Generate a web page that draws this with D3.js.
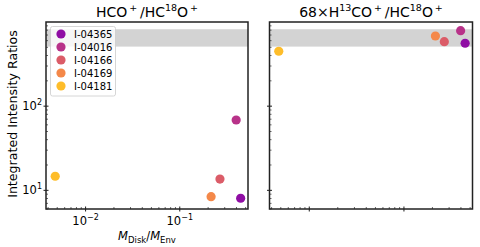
<!DOCTYPE html>
<html>
  <head>
    <meta charset="UTF-8" />
    <title>Intensity ratios vs disk/envelope mass</title>
    <style>
      body { margin: 0; background: #fff; }
      text { font-family: 'DejaVu Sans', sans-serif; fill: #000; }
    </style>
  </head>
  <body>
    <svg width="480" height="247"></svg>
    <script src="https://cdnjs.cloudflare.com/ajax/libs/d3/7.8.5/d3.min.js"></script>
    <script>
      const sources = ['I-04365', 'I-04016', 'I-04166', 'I-04169', 'I-04181'];
      const massRatio = [0.443, 0.397, 0.267, 0.215, 0.00476];
      const hcoRatio = [8.05, 68.5, 13.6, 8.4, 14.7];
      const h13coRatio = [559, 788, 583, 682, 449];
      const colors = ['#8f0da4', '#b83289', '#db5c68', '#f48849', '#febd2a'];
      const band = [510, 820];
      const xTicks = [0.01, 0.1];
      const yTicks = [10, 100];

      const svg = d3.select('svg');
      const plotTop = 22;
      const plotBottom = 209;
      const panels = [
        { left: 46, right: 248, values: hcoRatio, labels: true },
        { left: 269.5, right: 472.5, values: h13coRatio, labels: false },
      ];

      const y = d3.scaleLog().domain([6, 1000]).range([plotBottom, plotTop]);

      const minorTicks = (lo, hi) => {
        const out = [];
        for (let e = -4; e <= 3; e++) {
          for (let m = 2; m <= 9; m++) {
            const v = m * Math.pow(10, e);
            if (v >= lo && v <= hi) out.push(v);
          }
        }
        return out;
      };

      panels.forEach((p) => {
        const x = d3.scaleLog().domain([0.0038, 0.53]).range([p.left, p.right]);
        const g = svg.append('g');

        // reference band
        g.append('rect')
          .attr('x', p.left)
          .attr('width', p.right - p.left)
          .attr('y', y(band[1]))
          .attr('height', y(band[0]) - y(band[1]))
          .attr('fill', '#d3d3d3');

        // points
        g.selectAll('circle')
          .data(sources)
          .join('circle')
          .attr('cx', (d, i) => x(massRatio[i]))
          .attr('cy', (d, i) => y(p.values[i]))
          .attr('r', 4.6)
          .attr('fill', (d, i) => colors[i]);

        // minor ticks (inside)
        minorTicks(6, 1000).forEach((v) => {
          g.append('line')
            .attr('x1', p.left).attr('x2', p.left + 2)
            .attr('y1', y(v)).attr('y2', y(v))
            .attr('stroke', '#000').attr('stroke-width', 0.6);
        });
        minorTicks(0.0038, 0.53).forEach((v) => {
          g.append('line')
            .attr('x1', x(v)).attr('x2', x(v))
            .attr('y1', plotBottom).attr('y2', plotBottom - 2)
            .attr('stroke', '#000').attr('stroke-width', 0.6);
        });

        // major ticks (in-out)
        yTicks.forEach((v) => {
          g.append('line')
            .attr('x1', p.left - 2.5).attr('x2', p.left + 2.5)
            .attr('y1', y(v)).attr('y2', y(v))
            .attr('stroke', '#000').attr('stroke-width', 0.9);
        });
        xTicks.forEach((v) => {
          g.append('line')
            .attr('x1', x(v)).attr('x2', x(v))
            .attr('y1', plotBottom - 2.5).attr('y2', plotBottom + 2.5)
            .attr('stroke', '#000').attr('stroke-width', 0.9);
        });

        // frame
        g.append('rect')
          .attr('x', p.left).attr('y', plotTop)
          .attr('width', p.right - p.left).attr('height', plotBottom - plotTop)
          .attr('fill', 'none').attr('stroke', '#222').attr('stroke-width', 1.5);

        if (p.labels) {
          yTicks.forEach((v) => {
            const t = g.append('text')
              .attr('x', p.left - 4).attr('y', y(v) + 4)
              .attr('text-anchor', 'end').style('font-size', '11.5px');
            t.append('tspan').text('10');
            t.append('tspan').attr('dy', -5).style('font-size', '8px')
              .text(Math.round(Math.log10(v)));
          });
          xTicks.forEach((v) => {
            const t = g.append('text')
              .attr('x', x(v)).attr('y', plotBottom + 16)
              .attr('text-anchor', 'middle').style('font-size', '11.5px');
            t.append('tspan').text('10');
            t.append('tspan').attr('dy', -5).style('font-size', '8px')
              .text('\u2212' + Math.abs(Math.round(Math.log10(v))));
          });
        }
      });

      // titles
      const sup = (t, s) => t.append('tspan').attr('dy', -6).style('font-size', '9.5px').text(s);
      const base = (t, s) => t.append('tspan').attr('dy', 6).style('font-size', '14px').text(s);

      const t1 = svg.append('text').attr('x', 147).attr('y', 17).attr('text-anchor', 'middle')
        .style('font-size', '14px');
      t1.append('tspan').text('HCO');
      sup(t1, '\u2009+');
      base(t1, '\u2009/HC');
      sup(t1, '18');
      base(t1, 'O');
      sup(t1, '\u2009+');

      const t2 = svg.append('text').attr('x', 371).attr('y', 17).attr('text-anchor', 'middle')
        .style('font-size', '14px');
      t2.append('tspan').text('68\u00d7H');
      sup(t2, '13');
      base(t2, 'CO');
      sup(t2, '\u2009+');
      base(t2, '\u2009/HC');
      sup(t2, '18');
      base(t2, 'O');
      sup(t2, '\u2009+');

      // axis labels
      svg.append('text')
        .attr('transform', `translate(16.5,114) rotate(-90)`)
        .attr('text-anchor', 'middle').style('font-size', '12.6px')
        .text('Integrated Intensity Ratios');

      const xl = svg.append('text').attr('x', 147).attr('y', 240)
        .attr('text-anchor', 'middle').style('font-size', '11.5px');
      xl.append('tspan').style('font-style', 'italic').text('M');
      xl.append('tspan').attr('dy', 3).style('font-size', '8.5px').text('Disk');
      xl.append('tspan').attr('dy', -3).text('/');
      xl.append('tspan').style('font-style', 'italic').text('M');
      xl.append('tspan').attr('dy', 3).style('font-size', '8.5px').text('Env');

      // legend
      const lg = svg.append('g');
      lg.append('rect')
        .attr('x', 50.5).attr('y', 26.5).attr('width', 65).attr('height', 69.5)
        .attr('rx', 2).attr('fill', 'rgba(255,255,255,0.8)')
        .attr('stroke', '#ccc').attr('stroke-width', 0.8);
      const rows = d3.scalePoint().domain(sources).range([34, 86]);
      lg.selectAll('circle.leg')
        .data(sources)
        .join('circle')
        .attr('class', 'leg')
        .attr('cx', 61).attr('cy', (d) => rows(d))
        .attr('r', 4.6)
        .attr('fill', (d, i) => colors[i]);
      lg.selectAll('text')
        .data(sources)
        .join('text')
        .attr('x', 74).attr('y', (d) => rows(d) + 3.6)
        .style('font-size', '10px')
        .text((d) => d);
    </script>
  </body>
</html>
